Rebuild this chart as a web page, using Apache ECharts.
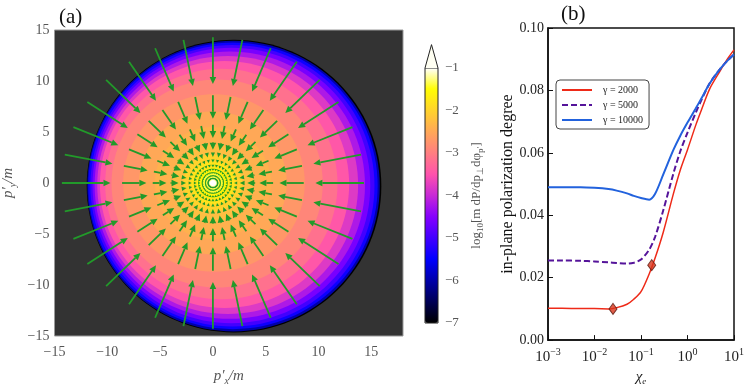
<!DOCTYPE html>
<html>
<head>
<meta charset="utf-8">
<script src="https://cdn.jsdelivr.net/npm/echarts@6/dist/echarts.min.js"></script>
<style>
html, body { margin: 0; padding: 0; background: #fff; }
#chart { width: 747px; height: 391px; }
</style>
</head>
<body>
<div id="chart"></div>
<script>
// panel (a): filled contour bands, outer to inner (centre, half-widths in p/m, log10 level)
const ringCx = [2.0, 1.95, 1.9, 1.85, 1.75, 1.6, 1.4, 1.1, 0.8, 0.4, 0.1, 0, 0, 0, 0, 0, 0, 0, 0, 0];
const ringCy = [-0.3, -0.3, -0.28, -0.27, -0.25, -0.22, -0.2, -0.15, -0.1, -0.05, 0, 0, 0, 0, 0, 0, 0, 0, 0, 0];
const ringRx = [13.95, 13.85, 13.7, 13.45, 13.15, 12.8, 12.35, 11.8, 11.0, 10.0, 8.6, 7.0, 5.5, 3.8, 2.8, 2.1, 1.5, 1.0, 0.55, 0.3];
const ringRy = [14.35, 14.25, 14.05, 13.8, 13.5, 13.1, 12.65, 12.1, 11.3, 10.2, 8.7, 7.0, 5.5, 3.8, 2.8, 2.1, 1.5, 1.0, 0.55, 0.3];
const ringLevel = [-7.0, -6.0, -5.4, -5.0, -4.6, -4.2, -3.8, -3.45, -3.15, -2.9, -2.7, -2.5, -2.4, -2.25, -2.0, -1.8, -1.6, -1.4, -1.2, -1.0];

// panel (a): quiver rings, arrows point to the centre
const arrowTailR = [14.3, 8.6, 5.7, 4.0, 3.0, 2.3, 1.8, 1.4, 1.05, 0.75, 0.5];
const arrowHeadR = [9.7, 6.3, 4.4, 3.25, 2.55, 2.0, 1.55, 1.2, 0.9, 0.62, 0.36];
const arrowDirs = 32;

// colour bar
const cbTicks = [-7, -6, -5, -4, -3, -2, -1];
const cbExtendTip = -0.45;

// panel (b)
const chi = [0.001, 0.002, 0.005, 0.01, 0.02, 0.03, 0.05, 0.07, 0.1, 0.15, 0.2, 0.3, 0.5, 0.7, 1, 1.5, 2, 3, 5, 7, 10];
const pol2000 = [0.0102, 0.0102, 0.0101, 0.0101, 0.0100, 0.0104, 0.0115, 0.0131, 0.0155, 0.0212, 0.0262, 0.0345, 0.0470, 0.0545, 0.0610, 0.0688, 0.0738, 0.0805, 0.0862, 0.0898, 0.0930];
const pol5000 = [0.0255, 0.0255, 0.0254, 0.0252, 0.0249, 0.0247, 0.0245, 0.0248, 0.0258, 0.0290, 0.0330, 0.0415, 0.0535, 0.0605, 0.0665, 0.0728, 0.0770, 0.0823, 0.0868, 0.0893, 0.0915];
const pol10000 = [0.0490, 0.0490, 0.0490, 0.0488, 0.0484, 0.0479, 0.0470, 0.0462, 0.0455, 0.0450, 0.0468, 0.0530, 0.0610, 0.0655, 0.0697, 0.0742, 0.0775, 0.0822, 0.0868, 0.0893, 0.0915];
const markerChi = [0.025, 0.17];
const markerPol = [0.0100, 0.0240];
const seriesNames = ['γ = 2000', 'γ = 5000', 'γ = 10000'];

const serif = 'Liberation Serif';
const gnuplot2 = ['#000000', '#000055', '#0000aa', '#0000ff', '#4200ff', '#8500ff', '#c729d6',
  '#ff53ac', '#ff7e81', '#ffa857', '#ffd32c', '#fffd02', '#ffffff'];
const minus = v => String(v).replace('-', '\u2212');

const ringData = ringCx.map((cx, i) => [cx, ringCy[i], ringRx[i], ringRy[i], ringLevel[i]]);

const arrowData = [];
arrowTailR.forEach((rt, i) => {
  for (let k = 0; k < arrowDirs; k++) {
    const a = k * 2 * Math.PI / arrowDirs;
    arrowData.push([rt * Math.cos(a), rt * Math.sin(a), arrowHeadR[i] * Math.cos(a), arrowHeadR[i] * Math.sin(a)]);
  }
});

const zip = (xs, ys) => xs.map((x, i) => [x, ys[i]]);

const chart = echarts.init(document.getElementById('chart'));

const option = {
  animation: false,
  title: [
    {text: '(a)', left: 54, top: 2, textStyle: {fontFamily: serif, fontSize: 21, fontWeight: 'normal', color: '#111'}},
    {text: '(b)', left: 556, top: -1, textStyle: {fontFamily: serif, fontSize: 21, fontWeight: 'normal', color: '#111'}}
  ],
  grid: [
    {left: 53, top: 30, width: 350, height: 318, show: true, backgroundColor: '#333333', borderColor: '#9a9a9a', borderWidth: 1},
    {left: 425, top: 68, width: 13, height: 255, show: true, z: 10, backgroundColor: 'transparent', borderColor: '#222', borderWidth: 1},
    {left: 548, top: 28, width: 188, height: 325, show: true, borderColor: '#111', borderWidth: 1.5}
  ],
  xAxis: [
    {
      gridIndex: 0, type: 'value', min: -15, max: 18, interval: 5,
      axisLine: {show: false}, axisTick: {show: false}, splitLine: {show: false},
      axisLabel: {showMaxLabel: false, formatter: minus, fontFamily: serif, fontSize: 14, color: '#555', margin: 9},
      name: '{i|p′}{sub|x}{i|/m}', nameLocation: 'middle', nameGap: 30,
      nameTextStyle: {rich: {
        i: {fontFamily: serif, fontStyle: 'italic', fontSize: 15, lineHeight: 20, color: '#555'},
        sub: {fontFamily: serif, fontStyle: 'italic', fontSize: 10, lineHeight: 10, verticalAlign: 'bottom', color: '#555'}
      }}
    },
    {gridIndex: 1, type: 'value', min: 0, max: 1, show: false},
    {
      gridIndex: 2, type: 'log', logBase: 10, min: 0.001, max: 10,
      axisLine: {show: true, lineStyle: {color: '#111', width: 1.5}},
      axisTick: {show: true, inside: true, length: 5, lineStyle: {color: '#111'}},
      splitLine: {show: false},
      axisLabel: {
        margin: 7,
        formatter: v => '{b|10}{s|' + minus(Math.round(Math.log10(v))) + '}',
        rich: {
          b: {fontFamily: serif, fontSize: 15, lineHeight: 20, color: '#222'},
          s: {fontFamily: serif, fontSize: 10, lineHeight: 10, verticalAlign: 'top', color: '#222'}
        }
      },
      name: '{i|χ}{sub|e}', nameLocation: 'middle', nameGap: 23,
      nameTextStyle: {rich: {
        i: {fontFamily: serif, fontStyle: 'italic', fontSize: 15, lineHeight: 18, color: '#222'},
        sub: {fontFamily: serif, fontStyle: 'italic', fontSize: 9, lineHeight: 9, verticalAlign: 'bottom', color: '#222'}
      }}
    }
  ],
  yAxis: [
    {
      gridIndex: 0, type: 'value', min: -15, max: 15, interval: 5,
      axisLine: {show: false}, axisTick: {show: false}, splitLine: {show: false},
      axisLabel: {formatter: minus, fontFamily: serif, fontSize: 14, color: '#555', margin: 5},
      name: '{i|p′}{sub|y}{i|/m}', nameLocation: 'middle', nameGap: 36, nameRotate: 90,
      nameTextStyle: {rich: {
        i: {fontFamily: serif, fontStyle: 'italic', fontSize: 15, lineHeight: 20, color: '#555'},
        sub: {fontFamily: serif, fontStyle: 'italic', fontSize: 10, lineHeight: 10, verticalAlign: 'bottom', color: '#555'}
      }}
    },
    {
      gridIndex: 1, type: 'value', min: cbTicks[0], max: cbTicks[cbTicks.length - 1], interval: 1, position: 'right',
      axisLine: {show: false}, axisTick: {show: false}, splitLine: {show: false},
      axisLabel: {formatter: minus, fontFamily: serif, fontSize: 13, color: '#555', margin: 7},
      name: '{t|log}{sub|10}{t|[m }{t|dP/dp}{sub|⊥}{t|dφ}{sub|p′}{t|]}',
      nameLocation: 'middle', nameGap: 30, nameRotate: 90,
      nameTextStyle: {rich: {
        t: {fontFamily: serif, fontSize: 13, lineHeight: 17, color: '#555'},
        sub: {fontFamily: serif, fontSize: 9, lineHeight: 9, verticalAlign: 'bottom', color: '#555'}
      }}
    },
    {
      gridIndex: 2, type: 'value', min: 0, max: 0.1, interval: 0.02,
      axisLine: {show: true, lineStyle: {color: '#111', width: 1.5}},
      axisTick: {show: true, inside: true, length: 5, lineStyle: {color: '#111'}},
      splitLine: {show: false},
      axisLabel: {formatter: v => v.toFixed(2), fontFamily: serif, fontSize: 14, color: '#222', margin: 4},
      name: 'in-plane polarization degree', nameLocation: 'middle', nameGap: 31,
      nameTextStyle: {fontFamily: serif, fontSize: 16, color: '#111'}
    }
  ],
  visualMap: {
    type: 'continuous', min: -7, max: -1, seriesIndex: 0, dimension: 4,
    calculable: false, hoverLink: false, show: true,
    left: 425, top: 68, itemWidth: 13, itemHeight: 255, padding: 0,
    text: null, inRange: {color: gnuplot2}
  },
  legend: {
    data: seriesNames, orient: 'vertical', left: 556, top: 80,
    backgroundColor: '#fff', borderColor: '#444', borderWidth: 1, borderRadius: 4,
    padding: [5, 6, 4, 5], itemWidth: 30, itemHeight: 9, itemGap: 5,
    itemStyle: {opacity: 0},
    textStyle: {fontFamily: serif, fontSize: 10, color: '#222', padding: [0, 0, 0, 6]}
  },
  series: [
    {
      type: 'custom', xAxisIndex: 0, yAxisIndex: 0, data: ringData, silent: true,
      renderItem: (params, api) => {
        const c = api.coord([api.value(0), api.value(1)]);
        const s = api.size([api.value(2), api.value(3)]);
        return {type: 'ellipse', shape: {cx: c[0], cy: c[1], rx: s[0], ry: s[1]}, style: {fill: api.visual('color')}};
      }
    },
    {
      type: 'custom', xAxisIndex: 0, yAxisIndex: 0, data: arrowData, silent: true,
      renderItem: (params, api) => {
        const p0 = api.coord([api.value(0), api.value(1)]);
        const p1 = api.coord([api.value(2), api.value(3)]);
        const dx = p1[0] - p0[0], dy = p1[1] - p0[1];
        const len = Math.hypot(dx, dy);
        const ux = dx / len, uy = dy / len;
        const hl = Math.min(7, len);
        const hw = len > 7 ? 3.3 : Math.max(1.6, hl * 0.45);
        const bx = p1[0] - ux * hl, by = p1[1] - uy * hl;
        const green = '#229a2a';
        const children = [{
          type: 'polygon',
          shape: {points: [[p1[0], p1[1]], [bx - uy * hw, by + ux * hw], [bx + uy * hw, by - ux * hw]]},
          style: {fill: green}
        }];
        if (len > hl) {
          children.push({type: 'line', shape: {x1: p0[0], y1: p0[1], x2: bx, y2: by}, style: {stroke: green, lineWidth: 1.8}});
        }
        return {type: 'group', children: children};
      }
    },
    {
      type: 'custom', xAxisIndex: 1, yAxisIndex: 1, data: [[cbTicks[cbTicks.length - 1], cbExtendTip]], silent: true, clip: false, z: 12,
      renderItem: (params, api) => {
        const a = api.coord([0, api.value(0)]);
        const b = api.coord([1, api.value(0)]);
        const t = api.coord([0.5, api.value(1)]);
        return {type: 'polyline', shape: {points: [a, t, b]}, style: {fill: '#fffff2', stroke: '#222', lineWidth: 1}};
      }
    },
    {
      name: seriesNames[0], type: 'line', xAxisIndex: 2, yAxisIndex: 2, data: zip(chi, pol2000),
      smooth: 0.3, symbol: 'none', lineStyle: {color: '#ee2a18', width: 1.5}, itemStyle: {color: '#ee2a18'}
    },
    {
      name: seriesNames[1], type: 'line', xAxisIndex: 2, yAxisIndex: 2, data: zip(chi, pol5000),
      smooth: 0.3, symbol: 'none', lineStyle: {color: '#55149a', width: 2, type: [6, 3]}, itemStyle: {color: '#55149a'}
    },
    {
      name: seriesNames[2], type: 'line', xAxisIndex: 2, yAxisIndex: 2, data: zip(chi, pol10000),
      smooth: 0.3, symbol: 'none', lineStyle: {color: '#2262dd', width: 2}, itemStyle: {color: '#2262dd'}
    },
    {
      type: 'scatter', xAxisIndex: 2, yAxisIndex: 2, data: zip(markerChi, markerPol),
      symbol: 'diamond', symbolSize: [8, 11], z: 5,
      itemStyle: {color: '#d8341c', borderColor: '#5a160c', borderWidth: 1}
    }
  ]
};

chart.setOption(option);
</script>
</body>
</html>
